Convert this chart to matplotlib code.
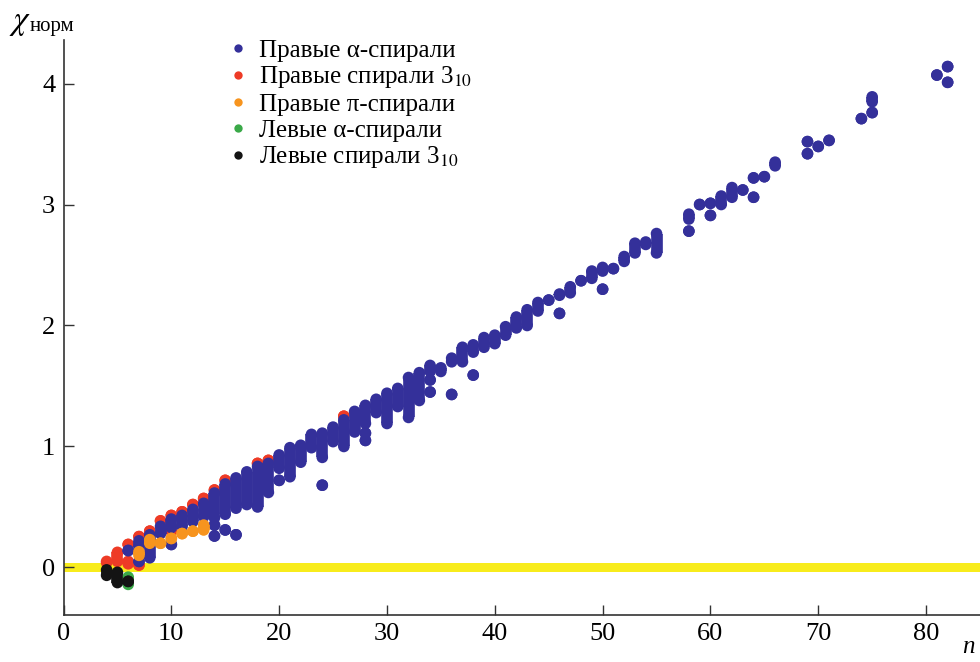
import matplotlib
matplotlib.use("Agg")
import matplotlib.pyplot as plt
from matplotlib.lines import Line2D

plt.rcParams["font.family"] = ["Liberation Serif", "DejaVu Serif"]
plt.rcParams["mathtext.fontset"] = "stix"

# every entry is one column of overlapping points: n, lowest chi, highest chi
# (lo == hi means a single point)
alpha_r_n = [6, 7, 7, 8, 9, 10, 10, 11, 12, 13, 14, 14, 14, 15, 15, 16, 16, 17, 18, 19,
             20, 20, 21, 22, 23, 24, 24, 25, 26, 27, 28, 28, 28, 29, 30, 31, 32, 33,
             34, 34, 34, 35, 36, 36, 37, 38, 38, 39, 40, 41, 42, 43, 44, 45, 46, 46,
             47, 48, 49, 50, 50, 51, 52, 53, 54, 55, 58, 58, 59, 60, 60, 61, 62, 63,
             64, 64, 65, 66, 69, 69, 70, 71, 74, 75, 75, 81, 82, 82]
alpha_r_lo = [0.14, 0.17, 0.05, 0.08, 0.28, 0.33, 0.19, 0.34, 0.38, 0.42, 0.41, 0.35, 0.26,
              0.44, 0.31, 0.49, 0.27, 0.52, 0.50, 0.62, 0.82, 0.72, 0.75, 0.87, 0.99,
              0.91, 0.68, 1.04, 1.00, 1.12, 1.19, 1.11, 1.05, 1.28, 1.19, 1.33, 1.24,
              1.38, 1.62, 1.55, 1.45, 1.62, 1.70, 1.43, 1.70, 1.78, 1.59, 1.82, 1.85,
              1.92, 1.98, 2.00, 2.12, 2.21, 2.25, 2.10, 2.27, 2.37, 2.39, 2.45, 2.30,
              2.47, 2.53, 2.60, 2.67, 2.60, 2.88, 2.78, 3.00, 3.01, 2.91, 3.00, 3.06,
              3.12, 3.22, 3.06, 3.23, 3.32, 3.52, 3.42, 3.48, 3.53, 3.71, 3.85, 3.76,
              4.07, 4.14, 4.01]
alpha_r_hi = [0.14, 0.22, 0.05, 0.27, 0.34, 0.40, 0.19, 0.43, 0.48, 0.53, 0.615, 0.35, 0.26,
              0.69, 0.31, 0.74, 0.27, 0.79, 0.835, 0.86, 0.93, 0.72, 0.99, 1.01, 1.10,
              1.11, 0.68, 1.16, 1.22, 1.29, 1.34, 1.11, 1.05, 1.39, 1.44, 1.48, 1.57,
              1.61, 1.67, 1.55, 1.45, 1.65, 1.73, 1.43, 1.82, 1.84, 1.59, 1.90, 1.92,
              1.99, 2.07, 2.13, 2.19, 2.21, 2.26, 2.10, 2.32, 2.37, 2.45, 2.48, 2.30,
              2.47, 2.57, 2.68, 2.69, 2.76, 2.92, 2.78, 3.00, 3.01, 2.91, 3.07, 3.14,
              3.12, 3.22, 3.06, 3.23, 3.35, 3.52, 3.42, 3.48, 3.53, 3.71, 3.89, 3.76,
              4.07, 4.14, 4.01]

h310_r_n = [4, 5, 6, 6, 7, 7, 8, 9, 10, 10, 11, 12, 13, 14, 15, 18, 19, 26]
h310_r_lo = [0.04, 0.05, 0.03, 0.19, 0.255, 0.02, 0.30, 0.385, 0.43, 0.30, 0.46, 0.52,
             0.57, 0.64, 0.72, 0.86, 0.885, 1.25]
h310_r_hi = [0.05, 0.125, 0.05, 0.19, 0.255, 0.02, 0.30, 0.385, 0.43, 0.30, 0.46, 0.52,
             0.57, 0.64, 0.72, 0.86, 0.885, 1.25]

pi_r_n = [7, 8, 9, 10, 11, 12, 13]
pi_r_lo = [0.10, 0.20, 0.20, 0.24, 0.28, 0.30, 0.31]
pi_r_hi = [0.13, 0.23, 0.20, 0.24, 0.28, 0.30, 0.35]

alpha_l_n = [6]
alpha_l_lo = [-0.14]
alpha_l_hi = [-0.08]

h310_l_n = [4, 5, 6]
h310_l_lo = [-0.065, -0.125, -0.115]
h310_l_hi = [-0.02, -0.04, -0.115]

labels = ["Правые α-спирали", "Правые спирали 3$_{10}$", "Правые π-спирали",
          "Левые α-спирали", "Левые спирали 3$_{10}$"]
colors = ["#34309a", "#ee3b26", "#f7941e", "#3aa948", "#141414"]

x_ticks = [0, 10, 20, 30, 40, 50, 60, 70, 80]
y_ticks = [0, 1, 2, 3, 4]

fig = plt.figure(figsize=(9.8, 6.62), dpi=100)
ax = fig.add_axes([0.0648, 0.0710, 0.9352, 0.8686])

# yellow band along chi = 0
ax.axhspan(-0.036, 0.036, color="#f8ec1c", lw=0, zorder=1)

series = [
    (alpha_r_n, alpha_r_lo, alpha_r_hi),
    (h310_r_n, h310_r_lo, h310_r_hi),
    (pi_r_n, pi_r_lo, pi_r_hi),
    (alpha_l_n, alpha_l_lo, alpha_l_hi),
    (h310_l_n, h310_l_lo, h310_l_hi),
]
# draw order: red under blue, the rest on top
order = [1, 0, 2, 3, 4]
msize = 70
for z, i in enumerate(order):
    n, lo, hi = series[i]
    c = colors[i]
    ax.vlines(n, lo, hi, colors=c, linewidth=8.4, capstyle="butt", zorder=3 + z)
    ax.scatter(n, lo, s=msize, color=c, edgecolors="none", zorder=3 + z)
    ax.scatter(n, hi, s=msize, color=c, edgecolors="none", zorder=3 + z)

ax.set_xlim(0, 85)
ax.set_ylim(-0.393, 4.36)
ax.set_xticks(x_ticks)
ax.set_yticks(y_ticks)
ax.tick_params(direction="in", length=7, width=1, labelsize=19, colors="#333333",
               labelcolor="black")
ax.tick_params(axis="x", pad=6)
ax.tick_params(axis="y", pad=6)
for side in ["top", "right"]:
    ax.spines[side].set_visible(False)
for side in ["left", "bottom"]:
    ax.spines[side].set_color("#333333")
    ax.spines[side].set_linewidth(1.2)

handles = [Line2D([], [], ls="none", marker="o", markersize=6, color=c, mec="none")
           for c in colors]
ax.legend(handles, labels, loc="upper left", bbox_to_anchor=(229 / 980, 1 - 39 / 662),
          bbox_transform=fig.transFigure, frameon=False, fontsize=18,
          handlelength=0.7, handletextpad=0.5, labelspacing=0.12,
          borderpad=0, borderaxespad=0)

# axis labels sit outside the axes corners
fig.text(9 / 980, 1 - 29 / 662, r"$\chi$", fontsize=24, va="baseline")
fig.text(30 / 980, 1 - 31 / 662, "норм", fontsize=15, va="baseline")
fig.text(962 / 980, 1 - 653 / 662, "n", fontsize=18, style="italic", va="baseline")

plt.savefig("out.png", dpi=100)
plt.close()
